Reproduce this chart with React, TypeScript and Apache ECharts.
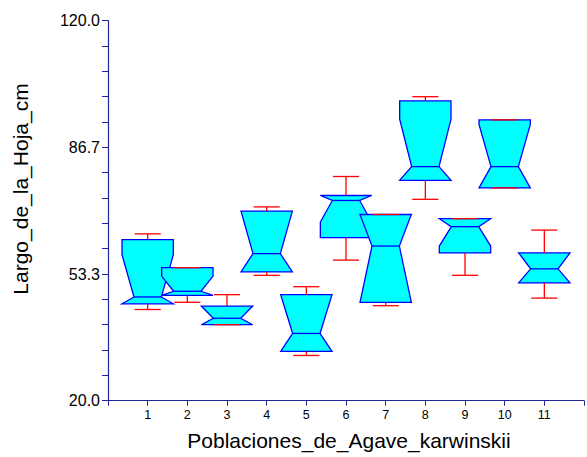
import React, { useEffect, useRef } from "react";
import * as echarts from "echarts";

// Population number on the x axis
const categories = [1, 2, 3, 4, 5, 6, 7, 8, 9, 10, 11];
// Box-and-whisker statistics per population (leaf length, cm)
const whiskerLow = [44.0, 45.9, 40.0, 53.0, 31.9, 57.0, 45.0, 73.0, 53.0, 76.0, 47.0];
const q1 = [45.5, 47.7, 40.0, 53.9, 33.0, 62.9, 45.9, 78.0, 58.9, 76.0, 51.0];
const notchLow = [45.5, 47.7, 40.0, 53.9, 33.0, 67.0, 45.9, 78.0, 60.7, 76.0, 51.0];
const median = [47.3, 48.8, 41.7, 58.7, 37.7, 72.7, 60.7, 81.6, 65.8, 81.6, 54.7];
const notchHigh = [58.4, 52.8, 44.9, 69.9, 47.9, 74.0, 69.0, 94.1, 67.9, 92.7, 58.9];
const q3 = [62.4, 55.0, 44.9, 69.9, 47.9, 74.0, 69.0, 98.9, 67.9, 93.9, 58.9];
const whiskerHigh = [63.9, 55.0, 47.9, 71.0, 50.0, 79.0, 69.0, 100.0, 67.9, 93.9, 64.9];

const FONT = 'Arial, "Liberation Sans", sans-serif';
const AXIS_COLOR = "#24249a";

export default function App() {
  const ref = useRef<HTMLDivElement>(null);

  useEffect(() => {
    if (!ref.current) return;
    const chart = echarts.init(ref.current, undefined, { renderer: "svg" });

    const data = categories.map((c, i) => [
      c,
      whiskerLow[i],
      q1[i],
      notchLow[i],
      median[i],
      notchHigh[i],
      q3[i],
      whiskerHigh[i],
    ]);

    const renderItem = (params: any, api: any) => {
      const x = api.value(0);
      const unit = api.size([1, 0])[0];
      const hw = unit * 0.647;
      const nw = unit * 0.345;
      const cw = unit * 0.33;
      const px = api.coord([x, 0])[0];
      const y = (k: number) => api.coord([x, api.value(k)])[1];
      const yWL = y(1), yQ1 = y(2), yNL = y(3), yMed = y(4), yNH = y(5), yQ3 = y(6), yWH = y(7);

      const boxStyle = { fill: "#00ffff", stroke: "#0000ff", lineWidth: 1.3 };
      const redStyle = { stroke: "#ff0000", lineWidth: 1.3 };

      return {
        type: "group",
        children: [
          {
            type: "polygon",
            shape: {
              points: [
                [px - hw, yQ3],
                [px + hw, yQ3],
                [px + hw, yNH],
                [px + nw, yMed],
                [px + hw, yNL],
                [px + hw, yQ1],
                [px - hw, yQ1],
                [px - hw, yNL],
                [px - nw, yMed],
                [px - hw, yNH],
              ],
            },
            style: boxStyle,
          },
          {
            type: "line",
            shape: { x1: px - nw, y1: yMed, x2: px + nw, y2: yMed },
            style: { stroke: "#0000ff", lineWidth: 1.3 },
          },
          {
            type: "line",
            shape: { x1: px, y1: yQ3, x2: px, y2: yWH },
            style: redStyle,
          },
          {
            type: "line",
            shape: { x1: px - cw, y1: yWH, x2: px + cw, y2: yWH },
            style: redStyle,
          },
          {
            type: "line",
            shape: { x1: px, y1: yQ1, x2: px, y2: yWL },
            style: redStyle,
          },
          {
            type: "line",
            shape: { x1: px - cw, y1: yWL, x2: px + cw, y2: yWL },
            style: redStyle,
          },
        ],
      };
    };

    chart.setOption({
      animation: false,
      backgroundColor: "#ffffff",
      grid: { left: 108, top: 20.7, width: 482.4, bottom: 56.3, containLabel: false },
      xAxis: {
        type: "value",
        min: 0,
        max: 12,
        interval: 1,
        axisLine: { show: true, lineStyle: { color: AXIS_COLOR, width: 1.2 } },
        axisTick: { show: true, inside: false, length: 5, lineStyle: { color: AXIS_COLOR } },
        axisLabel: {
          color: "#000",
          fontFamily: FONT,
          fontSize: 12.5,
          margin: 8,
          formatter: (v: number) => (v === 0 || v === 12 ? "" : String(v)),
        },
        splitLine: { show: false },
      },
      yAxis: {
        type: "value",
        min: 20,
        max: 120,
        interval: 100 / 3,
        axisLine: { show: true, lineStyle: { color: AXIS_COLOR, width: 1.2 } },
        axisTick: { show: true, inside: false, length: 6, lineStyle: { color: AXIS_COLOR } },
        minorTick: { show: true, splitNumber: 5, length: 6, lineStyle: { color: AXIS_COLOR } },
        axisLabel: {
          color: "#000",
          fontFamily: FONT,
          fontSize: 16,
          margin: 8,
          formatter: (v: number) => v.toFixed(1),
        },
        splitLine: { show: false },
        minorSplitLine: { show: false },
      },
      graphic: [
        {
          type: "text",
          x: 20.5,
          y: 189,
          rotation: Math.PI / 2,
          style: {
            text: "Largo_de_la_Hoja_cm",
            fontFamily: FONT,
            fontSize: 21,
            fill: "#000",
            align: "center",
            verticalAlign: "middle",
          },
        },
        {
          type: "text",
          x: 349,
          y: 440,
          style: {
            text: "Poblaciones_de_Agave_karwinskii",
            fontFamily: FONT,
            fontSize: 21,
            fill: "#000",
            align: "center",
            verticalAlign: "middle",
          },
        },
      ],
      series: [
        {
          type: "custom",
          renderItem,
          data,
          encode: { x: 0, y: [1, 7] },
          clip: false,
        },
      ],
    });

    return () => chart.dispose();
  }, []);

  return (
    <div
      ref={ref}
      style={{ position: "fixed", left: 0, top: 0, width: 587, height: 457, background: "#fff" }}
    />
  );
}
